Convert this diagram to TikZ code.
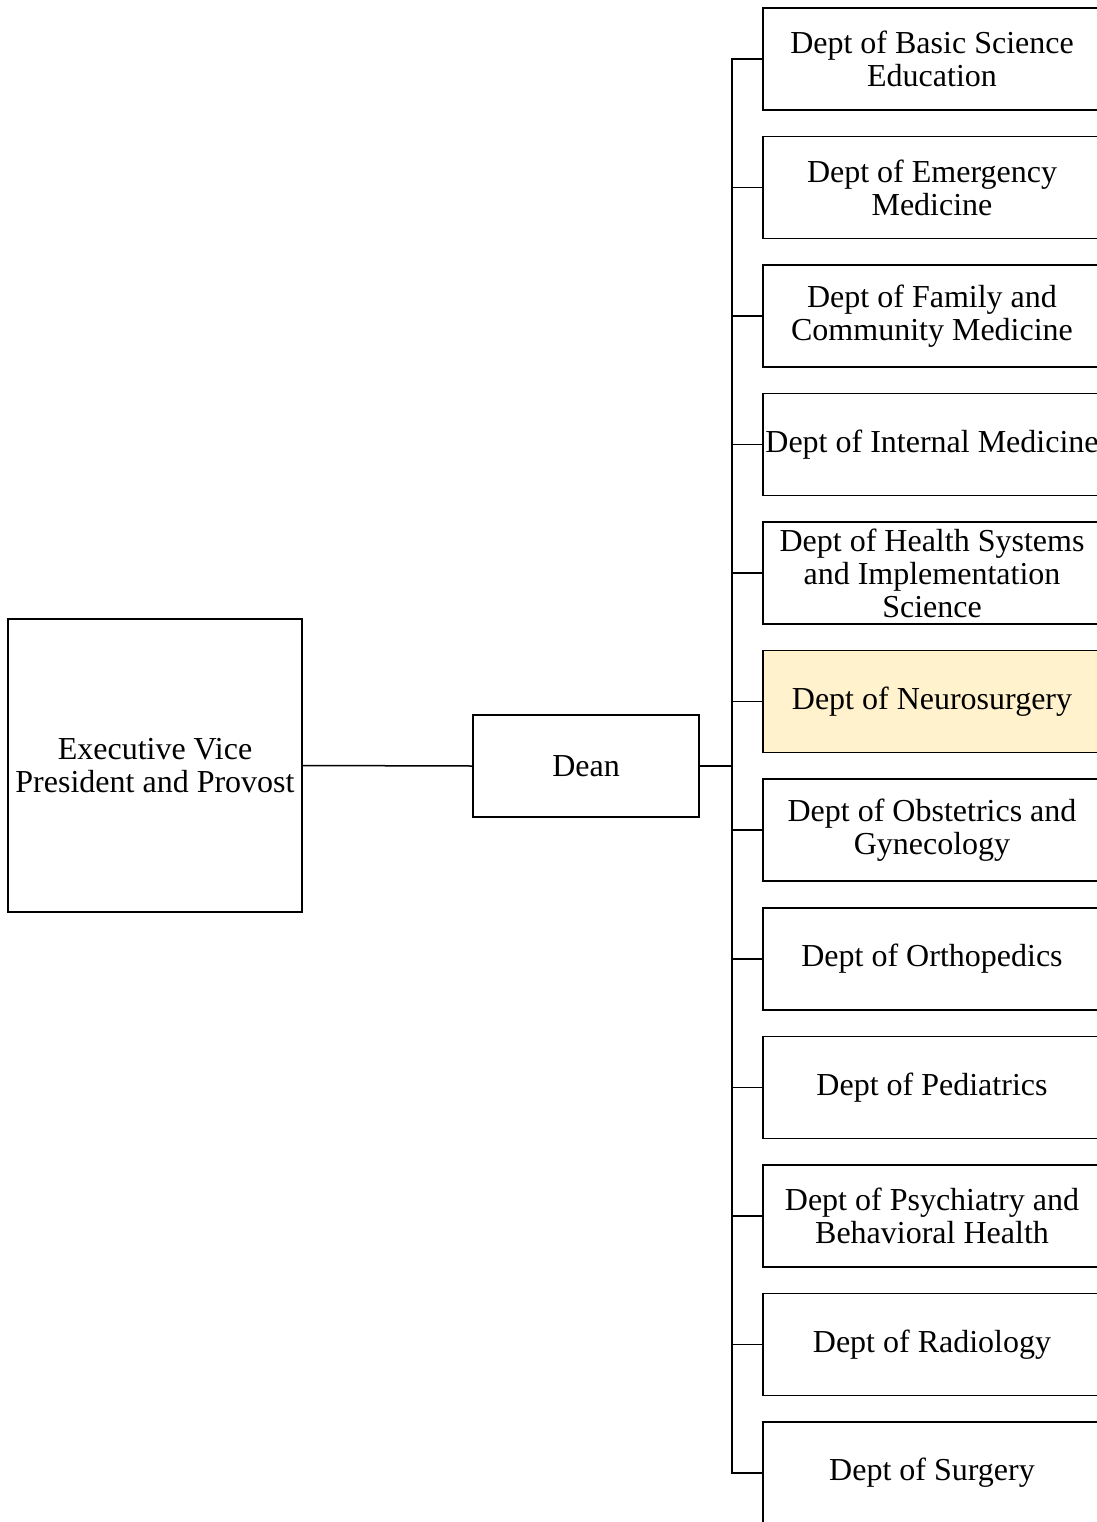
\documentclass[tikz,border=0pt]{standalone}
\usepackage{fontspec}
\setmainfont{Liberation Serif}
\definecolor{hl}{HTML}{FFF2CC}
\begin{document}
\begin{tikzpicture}[x=1pt,y=-1pt,
  box/.style={draw=black,line width=1.5pt,fill=white,inner sep=0pt,align=center,
    font=\fontsize{32}{33}\selectfont},
  dept/.style={box,minimum width=338pt,minimum height=102pt},
  conn/.style={draw=black,line width=1.5pt}]
\useasboundingbox (0,0) rectangle (1096,1522);
\node[box,minimum width=294pt,minimum height=293pt] (evp) at (155,765.5) {Executive Vice\\President and Provost};
\node[box,minimum width=226pt,minimum height=102pt] (dean) at (586,766) {Dean};
\foreach \i/\y/\t in {1/59/{Dept of Basic Science\\Education},
  2/187.5/{Dept of Emergency\\Medicine},
  3/316/{Dept of Family and\\Community Medicine},
  4/444.5/{Dept of Internal Medicine},
  5/573/{Dept of Health Systems\\and Implementation\\Science},
  7/830/{Dept of Obstetrics and\\Gynecology},
  8/959/{Dept of Orthopedics},
  9/1087.5/{Dept of Pediatrics},
  10/1216/{Dept of Psychiatry and\\Behavioral Health},
  11/1344.5/{Dept of Radiology},
  12/1473/{Dept of Surgery}}{
  \node[dept] (d\i) at (932,\y) {\t};
}
\node[dept,fill=hl] (d6) at (932,701.5) {Dept of Neurosurgery};
\coordinate (bus) at (732,766);
\draw[conn] (evp.east) -- (dean.west);
\draw[conn] (dean.east) -- (bus);
\draw[conn] (d1.west) -- (d1.west -| bus) -- (d12.west -| bus) -- (d12.west);
\foreach \i in {2,...,11}{
  \draw[conn] (d\i.west) -- (d\i.west -| bus);
}
\end{tikzpicture}
\end{document}
